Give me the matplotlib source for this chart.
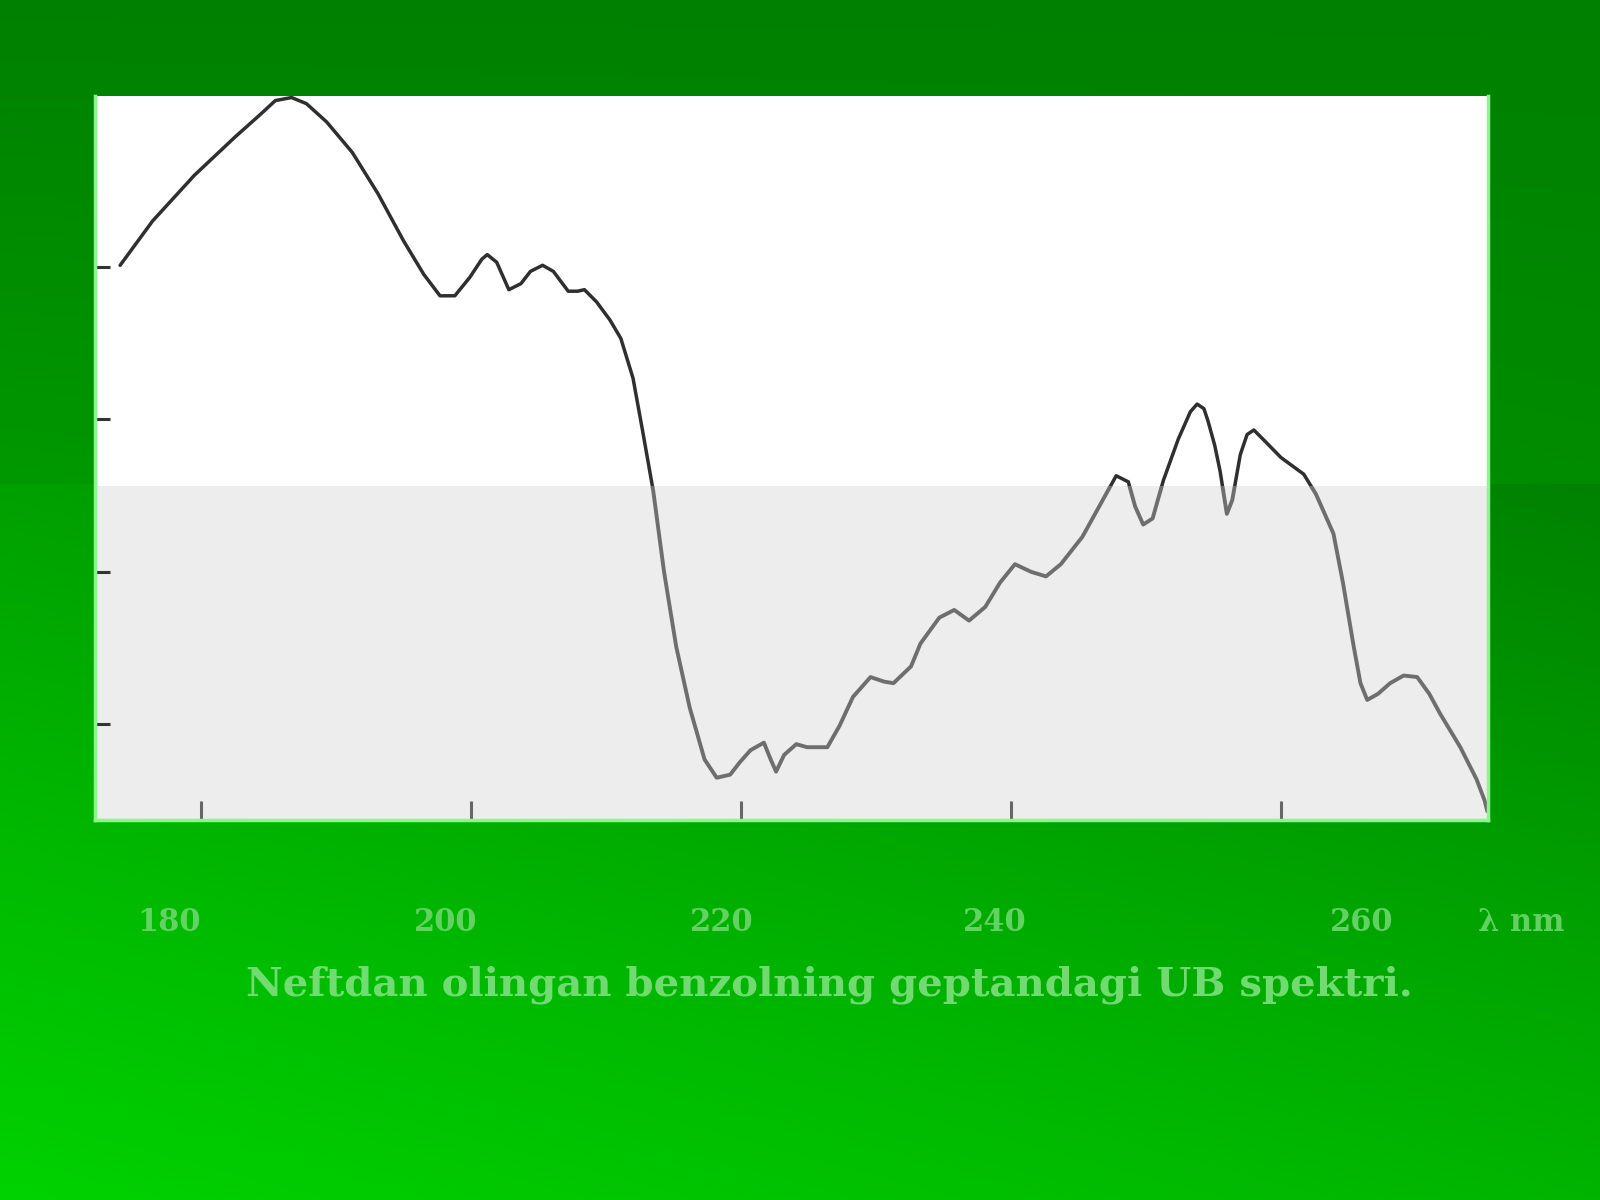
import numpy as np
import matplotlib.pyplot as plt
from matplotlib.patches import Rectangle
from matplotlib.transforms import blended_transform_factory

# UV spectrum (wavelength in nm, absorbance in arbitrary units)
wavelength = [174.0, 176.4, 179.5, 182.5, 184.4, 185.5, 186.7, 187.8, 189.3, 191.2,
              193.1, 195.0, 196.5, 197.7, 198.8, 199.9, 200.8, 201.2, 201.9, 202.8,
              203.7, 204.4, 205.3, 206.1, 207.2, 207.9, 208.4, 209.3, 210.3, 211.1,
              212.0, 212.7, 213.5, 214.3, 215.2, 216.2, 217.3, 218.2, 219.2, 219.9,
              220.7, 221.7, 222.2, 222.6, 223.2, 224.1, 224.9, 226.4, 227.3, 228.3,
              229.6, 230.6, 231.3, 232.6, 233.3, 234.7, 235.8, 236.9, 238.1, 239.2,
              240.3, 241.5, 242.6, 243.7, 245.3, 246.8, 247.8, 248.7, 249.2, 249.8,
              250.5, 251.3, 252.4, 253.3, 253.8, 254.3, 254.6, 255.1, 255.5, 256.0,
              256.4, 257.0, 257.5, 258.0, 258.9, 260.0, 261.7, 262.6, 263.9, 264.6,
              265.4, 265.9, 266.4, 267.2, 268.1, 269.1, 270.1, 271.0, 271.8, 273.3,
              274.5, 275.1, 275.3]
absorbance = [4.01, 4.30, 4.60, 4.85, 5.00, 5.09, 5.11, 5.07, 4.95, 4.75,
              4.48, 4.17, 3.95, 3.81, 3.81, 3.93, 4.05, 4.08, 4.03, 3.85,
              3.89, 3.97, 4.01, 3.97, 3.84, 3.84, 3.85, 3.77, 3.65, 3.53,
              3.27, 2.93, 2.53, 2.00, 1.51, 1.11, 0.77, 0.65, 0.67, 0.75,
              0.83, 0.88, 0.77, 0.69, 0.80, 0.87, 0.85, 0.85, 0.99, 1.18,
              1.31, 1.28, 1.27, 1.38, 1.53, 1.70, 1.75, 1.68, 1.77, 1.93,
              2.05, 2.00, 1.97, 2.05, 2.23, 2.47, 2.63, 2.59, 2.43, 2.31,
              2.35, 2.60, 2.87, 3.05, 3.10, 3.07, 2.99, 2.83, 2.66, 2.38,
              2.47, 2.77, 2.90, 2.93, 2.85, 2.75, 2.64, 2.51, 2.25, 1.93,
              1.51, 1.27, 1.16, 1.20, 1.27, 1.32, 1.31, 1.20, 1.07, 0.85,
              0.64, 0.50, 0.43]

x_ticks = [180, 200, 220, 240, 260]
y_ticks = [1, 2, 3, 4]
tick_labels = ["180", "200", "220", "240", "260", "λ nm"]
label_x = [177.6, 198.1, 218.6, 238.8, 266.0, 277.8]
caption = "Neftdan olingan benzolning geptandagi UB spektri."

fig = plt.figure(figsize=(16, 12), dpi=100)

# green slide background, darker on top, brighter towards bottom-left
split = 0.597
yy, xx = np.mgrid[0:1:300j, 0:1:400j]
g = np.where(yy < 1 - split,
             128 + 25 * (yy / (1 - split)) * (1 - 0.5 * xx),
             160 + 50 * ((yy - (1 - split)) / split) - 30 * xx)
bg_img = np.dstack([np.zeros_like(g), g / 255, np.zeros_like(g)])
bg = fig.add_axes([0, 0, 1, 1], zorder=0)
bg.imshow(bg_img, aspect='auto', extent=[0, 1, 0, 1], origin='upper')
bg.set_axis_off()

ax = fig.add_axes([0.0594, 0.3167, 0.8706, 0.6033], zorder=1)
ax.set_facecolor('white')
ax_split = 0.461
ax.add_patch(Rectangle((0, 0), 1, ax_split, transform=ax.transAxes,
                       facecolor='#ededed', edgecolor='none', zorder=0.5))

top_clip = Rectangle((0, ax_split), 1, 1 - ax_split, transform=ax.transAxes)
low_clip = Rectangle((0, 0), 1, ax_split, transform=ax.transAxes)
l1, = ax.plot(wavelength, absorbance, color='#2f2f2f', lw=2.5, zorder=2,
              solid_joinstyle='round', solid_capstyle='round')
l1.set_clip_path(top_clip)
l2, = ax.plot(wavelength, absorbance, color='#6e6e6e', lw=2.8, zorder=2,
              solid_joinstyle='round', solid_capstyle='round')
l2.set_clip_path(low_clip)

ax.set_xlim(172.14, 275.35)
ax.set_ylim(0.373, 5.12)
ax.set_xticks(x_ticks)
ax.set_yticks(y_ticks)
ax.tick_params(axis='x', direction='in', length=14, width=2.2, color='#666666',
               labelbottom=False)
ax.tick_params(axis='y', direction='in', length=11, width=2.2, color='#333333',
               labelleft=False)
for t in ax.yaxis.get_major_ticks()[:2]:
    t.tick1line.set_color('#8a8a8a')
ax.xaxis.get_major_ticks()[0].tick1line.set_color('#bbbbbb')

for side in ['left', 'right', 'top', 'bottom']:
    ax.spines[side].set_color('#8ef58e')
    ax.spines[side].set_linewidth(2.5)
ax.spines['top'].set_visible(False)

# tick labels sit well below the frame, slightly off the ticks as in the slide
label_tr = blended_transform_factory(ax.transData, fig.transFigure)
for lx, lab in zip(label_x, tick_labels):
    ax.text(lx, 0.231, lab, transform=label_tr,
            ha='center', va='center', fontsize=22, fontweight='bold',
            family='DejaVu Serif', color='#6fd66f', alpha=0.9, clip_on=False)

fig.text(0.5185, 0.179, caption, ha='center', va='center', fontsize=29,
         fontweight='bold', family='DejaVu Serif', color='#7ee07e', alpha=0.9)

fig.savefig('out.png', dpi=100)
